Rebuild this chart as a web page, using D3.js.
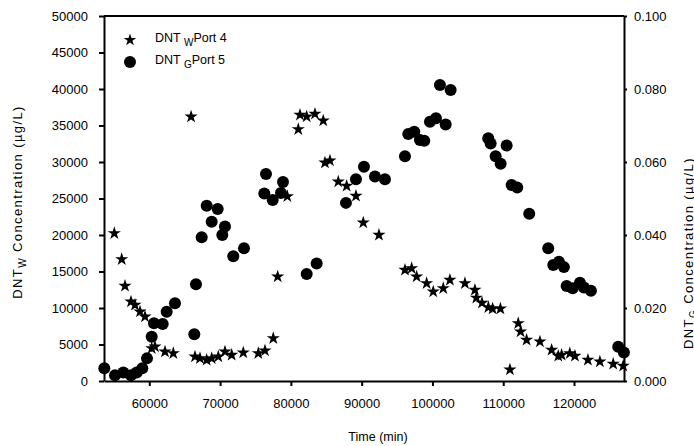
<!DOCTYPE html>
<html>
<head>
<meta charset="utf-8">
<script src="https://cdn.jsdelivr.net/npm/d3@7"></script>
<style>
body { margin: 0; background: #fff; }
text { font-family: "Liberation Sans", Arial, sans-serif; }
</style>
</head>
<body>
<script>
// DNT_W Port 4 (left axis, ug/L)
var portW_t = [55057,56102,56568,57415,57980,58686,59393,60339,60800,62218,63390,65900,66455,67161,68107,68813,69746,70692,71638,73276,75395,76342,77514,78136,79500,81045,81285,82232,83404,84576,84816,85522,86694,87880,89195,90226,92443,96116,97062,97768,99180,100112,101525,102465,104589,106000,106200,107000,107900,108500,109600,110946,112118,112452,113300,115183,116836,117777,118248,119401,120128,121962,123655,125535,126947];
var portW_v = [20235,16673,13015,10864,10412,9494,8809,4480,4700,4009,3795,36200,3329,3110,2877,3110,3329,4014,3562,3877,3795,4151,5850,14289,25300,34480,36442,36210,36580,35661,29900,30180,27304,26715,25345,21687,20002,15207,15440,14289,13385,12234,12700,13837,13385,12467,11400,10700,10100,9900,9900,1550,7905,6754,5617,5384,4247,3425,3562,3790,3425,2877,2644,2329,2055];

// DNT_G Port 5 (right axis, ug/L)
var portG_t = [53644,55155,56328,57415,58220,59011,59675,60339,60664,61893,62458,63630,66356,66596,67401,68107,68813,69661,70311,70692,71864,73376,76243,77429,76483,78884,78601,82232,83644,87783,89195,90325,91878,93290,96116,96582,97429,98235,98842,99647,100494,101864,101059,102571,107881,108220,110480,108927,109633,111186,111977,113672,116356,117062,117867,118573,118954,119802,120833,121398,122387,126243,127048];
var portG_v = [0.0035,0.0016,0.0023,0.0016,0.0023,0.0035,0.0062,0.0121,0.0158,0.0156,0.0190,0.0213,0.0128,0.0265,0.0394,0.0480,0.0436,0.0471,0.0400,0.0423,0.0342,0.0364,0.0514,0.0496,0.0567,0.0545,0.0515,0.0293,0.0322,0.0488,0.0553,0.0587,0.0560,0.0553,0.0616,0.0677,0.0683,0.0660,0.0658,0.0710,0.0720,0.0703,0.0811,0.0797,0.0665,0.0651,0.0645,0.0616,0.0595,0.0537,0.0530,0.0458,0.0364,0.0318,0.0327,0.0312,0.0260,0.0254,0.0269,0.0256,0.0247,0.0094,0.0078];

var xTicks = [60000,70000,80000,90000,100000,110000,120000];
var yLeftTicks = [0,5000,10000,15000,20000,25000,30000,35000,40000,45000,50000];
var yRightTicks = [0,0.02,0.04,0.06,0.08,0.1];

var w = 694, h = 446;
var pl = 104, pr = 624, pt = 16, pb = 381;

var svg = d3.select("body").append("svg")
	.attr("width", w)
	.attr("height", h);

var x = d3.scaleLinear().domain([53600, 127060]).range([pl, pr]);
var yL = d3.scaleLinear().domain([0, 50000]).range([pb, pt]);
var yR = d3.scaleLinear().domain([0, 0.1]).range([pb, pt]);

// frame top line
svg.append("line")
	.attr("x1", pl).attr("x2", pr)
	.attr("y1", pt).attr("y2", pt)
	.attr("stroke", "#000").attr("stroke-width", 2);

var xAxis = svg.append("g")
	.attr("transform", "translate(0," + pb + ")")
	.call(d3.axisBottom(x).tickValues(xTicks).tickFormat(d3.format("d")).tickSize(5).tickPadding(13).tickSizeOuter(0));

var yAxisL = svg.append("g")
	.attr("transform", "translate(" + pl + ",0)")
	.call(d3.axisLeft(yL).tickValues(yLeftTicks).tickFormat(d3.format("d")).tickSize(5).tickPadding(11).tickSizeOuter(0));

var yAxisR = svg.append("g")
	.attr("transform", "translate(" + pr + ",0)")
	.call(d3.axisRight(yR).tickValues(yRightTicks).tickFormat(d3.format(".3f")).tickSize(3).tickPadding(7).tickSizeOuter(0));

[xAxis, yAxisL, yAxisR].forEach(function(g){
	g.select(".domain").attr("stroke-width", 2);
	g.selectAll(".tick line").attr("stroke-width", 2);
	g.selectAll("text").attr("font-size", 13).attr("font-family", "Liberation Sans, Arial, sans-serif").attr("fill", "#000");
});

// data
var star = d3.symbol().type(d3.symbolStar).size(54);

svg.selectAll("circle.g")
	.data(d3.range(portG_t.length))
	.enter()
	.append("circle")
	.attr("class", "g")
	.attr("cx", function(i){ return x(portG_t[i]); })
	.attr("cy", function(i){ return yR(portG_v[i]); })
	.attr("r", 6)
	.attr("fill", "#000");

svg.selectAll("path.w")
	.data(d3.range(portW_t.length))
	.enter()
	.append("path")
	.attr("class", "w")
	.attr("d", star)
	.attr("transform", function(i){
		return "translate(" + x(portW_t[i]) + "," + yL(portW_v[i]) + ")";
	})
	.attr("fill", "#000");

// legend
svg.append("path").attr("d", d3.symbol().type(d3.symbolStar).size(48))
	.attr("transform", "translate(130,40)").attr("fill", "#000");
svg.append("circle").attr("cx", 130).attr("cy", 62).attr("r", 6).attr("fill", "#000");

var l1 = svg.append("text").attr("x", 155).attr("y", 41.5).attr("font-size", 12.5);
l1.append("tspan").text("DNT ");
l1.append("tspan").attr("dy", 4).attr("font-size", 10).text("W");
l1.append("tspan").attr("dy", -4).text("Port 4");

var l2 = svg.append("text").attr("x", 155).attr("y", 64).attr("font-size", 12.5);
l2.append("tspan").text("DNT ");
l2.append("tspan").attr("dy", 4).attr("font-size", 10).text("G");
l2.append("tspan").attr("dy", -4).text("Port 5");

// axis titles
svg.append("text")
	.attr("x", 378).attr("y", 441)
	.attr("text-anchor", "middle")
	.attr("font-size", 12.5)
	.text("Time (min)");

var tl = svg.append("text")
	.attr("transform", "translate(22,202) rotate(-90)")
	.attr("text-anchor", "middle")
	.attr("font-size", 13)
	.attr("letter-spacing", 1.4);
tl.append("tspan").text("DNT");
tl.append("tspan").attr("dy", 4).attr("font-size", 10).text("W");
tl.append("tspan").attr("dy", -4).text(" Concentration (µg/L)");

var tr = svg.append("text")
	.attr("transform", "translate(693,253) rotate(-90)")
	.attr("text-anchor", "middle")
	.attr("font-size", 13)
	.attr("letter-spacing", 1.4);
tr.append("tspan").text("DNT");
tr.append("tspan").attr("dy", 4).attr("font-size", 10).text("G");
tr.append("tspan").attr("dy", -4).text("  Concentration (µg/L)");
</script>
</body>
</html>
